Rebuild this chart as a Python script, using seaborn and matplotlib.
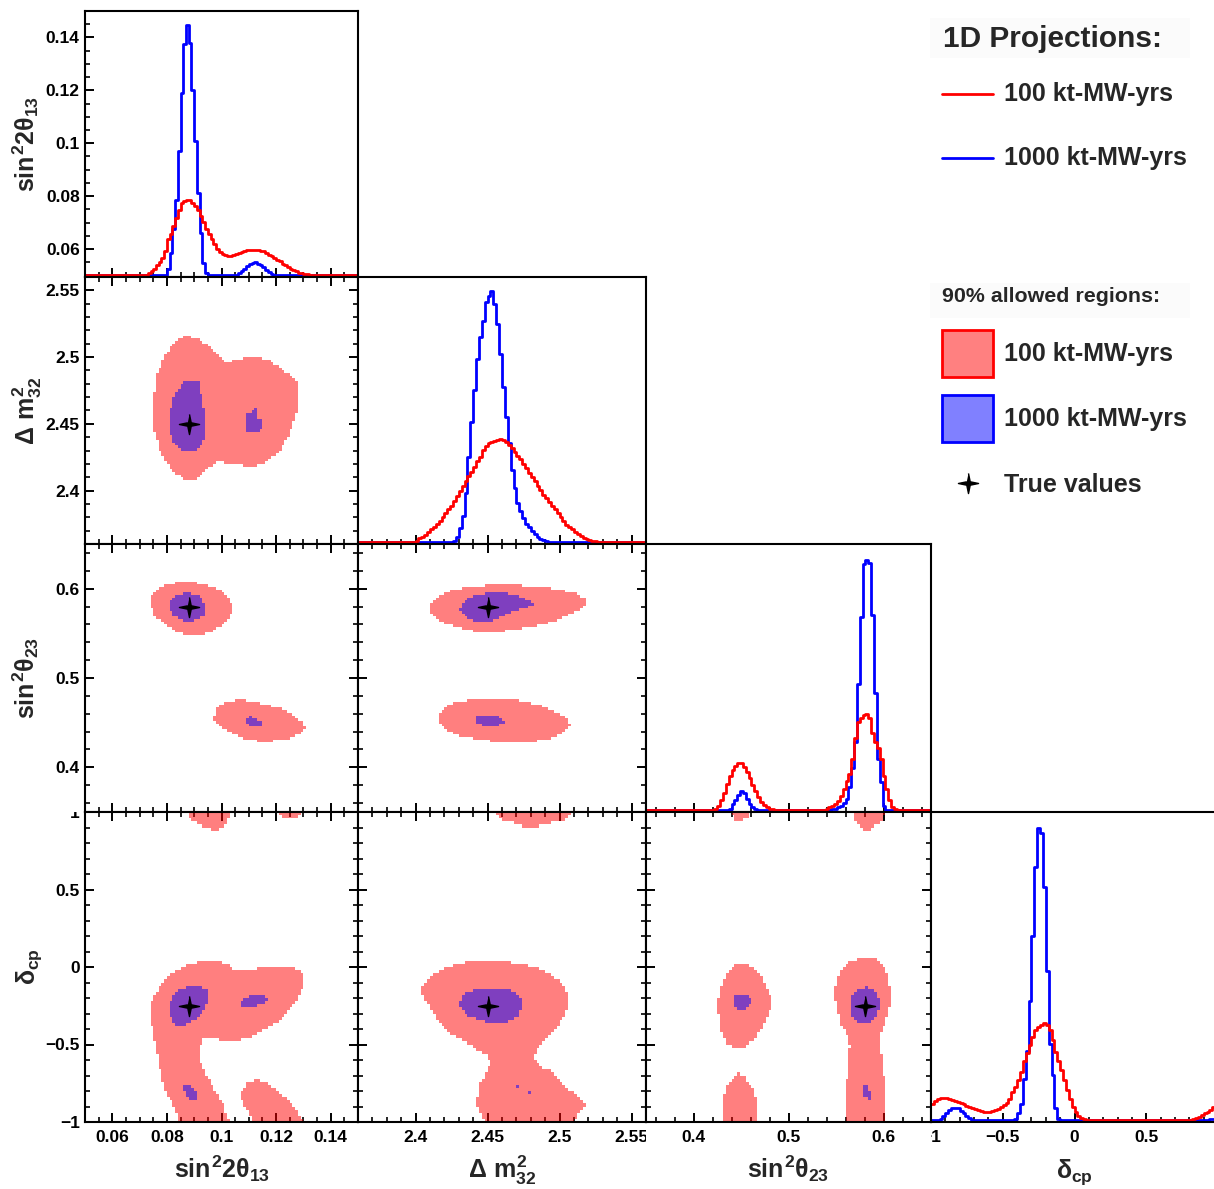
import numpy as np
import matplotlib
matplotlib.use("Agg")
import matplotlib.pyplot as plt
import seaborn as sns
from matplotlib.path import Path
from matplotlib.colors import ListedColormap
from matplotlib.patches import Rectangle
from matplotlib.ticker import MultipleLocator, FixedLocator, FuncFormatter, NullLocator
from matplotlib.transforms import Bbox, TransformedBbox

# ------------------------------------------------------------------ data
PARAM_LABELS = [r"$sin^{2}2\theta_{13}$", r"$\Delta\ m^{2}_{32}$",
                r"$sin^{2}\theta_{23}$", r"$\delta_{cp}$"]
PARAM_RANGES = [(0.05, 0.15), (2.36, 2.56), (0.35, 0.65), (-1.0, 1.0)]
MAJOR_TICKS = [[0.06, 0.08, 0.10, 0.12, 0.14], [2.40, 2.45, 2.50, 2.55],
               [0.4, 0.5, 0.6], [-1.0, -0.5, 0.0, 0.5, 1.0]]
MINOR_STEPS = [0.005, 0.01, 0.02, 0.1]
TRUE_VALUES = [0.088, 2.45, 0.58, -0.25]
DIAG00_YTICKS = [0.06, 0.08, 0.10, 0.12, 0.14]
EXPOSURES = ["100 kt-MW-yrs", "1000 kt-MW-yrs"]
LEGEND_TITLES = ["1D Projections:", "90% allowed regions:"]
TRUE_LABEL = "True values"
N_BINS = 100

# 1D projections: first filled bin and bin heights (% of panel height)
S13_100_START = 22
S13_100 = [0.3, 0.75, 1.6, 2.5, 3.8, 5.0, 6.7, 9.2, 13.6, 15.5, 18.6, 21.8, 24.9, 27.2,
           28.3, 28.7, 28.4, 27.4, 26.4, 24.9, 22.6, 20.1, 17.4, 15.5, 13.6, 11.7, 10.1,
           8.9, 8.2, 7.7, 7.5, 7.5, 7.8, 8.2, 8.6, 8.9, 9.3, 9.6, 9.8, 9.8, 9.8, 9.7, 9.4,
           9.1, 8.6, 7.9, 7.3, 6.7, 6.0, 5.3, 4.5, 3.8, 3.1, 2.5, 2.0, 1.5, 1.1, 0.9, 0.6,
           0.4, 0.25, 0.1]
S13_1000_START = 30
S13_1000 = ([2.3, 8.6, 17.4, 28.7, 46.9, 68.9, 87.5, 94.7, 88.0, 70.2, 50.7, 31.2, 16.1,
             4.8, 1.0] + [0.0] * 11 +
            [0.75, 1.6, 2.5, 3.5, 4.2, 4.8, 4.9, 4.5, 3.9, 3.0, 2.0, 1.3, 0.5])

DM_100_START = 19
DM_100 = [0.2, 0.7, 1.5, 2.1, 2.9, 3.9, 4.9, 5.9, 7.1, 8.2, 9.4, 10.9, 12.4, 13.9, 15.5,
          17.4, 19.2, 21.1, 23.0, 25.1, 26.7, 28.6, 30.5, 32.3, 34.8, 36.3, 37.3, 38.0,
          38.3, 38.7, 38.8, 38.6, 38.0, 36.7, 35.5, 34.2, 32.6, 31.3, 29.6, 28.0, 26.1,
          24.6, 23.0, 21.3, 19.9, 18.0, 16.7, 15.1, 13.6, 12.4, 10.9, 9.6, 8.0, 6.7, 5.9,
          4.9, 3.9, 3.0, 2.4, 1.7, 1.2, 0.9, 0.6, 0.4, 0.2, 0.1]
DM_1000_START = 32
DM_1000 = [0.2, 0.7, 2.1, 5.5, 9.9, 18.6, 32.3, 45.4, 57.3, 69.2, 77.3, 83.5, 90.4, 92.9,
           94.8, 89.8, 82.3, 71.0, 58.6, 47.3, 37.3, 27.3, 20.5, 14.9, 11.7, 9.2, 7.1, 5.9,
           4.2, 3.0, 2.1, 1.4, 0.9, 0.5, 0.2]

S23_100_START = 24
S23_100 = ([0.5, 1.7, 3.9, 6.7, 9.9, 13.0, 15.1, 16.7, 17.9, 17.7, 16.4, 14.6, 12.1, 9.6,
            7.1, 4.9, 3.2, 2.0, 1.1, 0.6, 0.4, 0.1] + [0.0] * 16 +
           [0.2, 0.6, 1.1, 1.6, 2.4, 3.6, 5.5, 8.0, 10.9, 13.6, 19.2, 27.3, 33.0, 34.8,
            35.8, 36.3, 34.8, 29.2, 25.8, 23.6, 19.2, 13.0, 8.0, 3.9, 1.1, 0.4])
S23_1000_START = 29
S23_1000 = ([0.7, 2.4, 4.0, 5.9, 7.1, 6.4, 4.2, 2.4, 1.1, 0.4] + [0.0] * 26 +
            [0.4, 0.6, 1.1, 1.7, 2.6, 4.2, 8.6, 16.1, 25.5, 47.3, 72.5, 92.5, 94.1, 92.9,
             73.5, 44.2, 19.2, 10.5, 1.7, 0.1])

DCP_100_START = 0
DCP_100 = ([5.1, 6.3, 6.8, 7.1, 7.2, 7.1, 6.9, 6.6, 6.3, 5.9, 5.6, 5.2, 4.7, 4.3, 3.9, 3.6,
            3.2, 2.9, 2.7, 2.6, 2.7, 2.9, 3.2, 3.7, 4.2, 4.9, 5.6, 6.8, 9.0, 10.8, 12.9,
            15.6, 19.1, 21.9, 24.5, 27.0, 29.1, 30.2, 31.0, 31.6, 31.0, 29.1, 25.9, 22.1,
            19.3, 16.2, 12.9, 9.7, 7.0, 4.3, 2.5, 1.4, 0.8, 0.3, 0.1] + [0.0] * 35 +
           [0.1, 0.3, 0.6, 1.1, 1.6, 2.2, 2.7, 3.3, 4.3, 5.0])
DCP_1000_START = 2
DCP_1000 = ([0.1, 0.5, 1.4, 2.4, 3.2, 3.8, 4.0, 3.8, 3.1, 2.3, 1.4, 0.6, 0.2] + [0.0] * 14 +
            [0.5, 2.2, 5.4, 13.5, 22.3, 38.8, 59.9, 82.0, 94.9, 93.3, 75.5, 48.5, 24.8,
             14.6, 3.8, 0.3] + [0.0] * 51 + [0.2, 0.3, 0.4, 0.5])

# 90% allowed regions, outlines (x param, y param)
REG_DM_S13_100 = [[(0.0873, 2.5164), (0.0922, 2.5126), (0.0959, 2.5076), (0.0989, 2.5013),
                   (0.1020, 2.4949), (0.1044, 2.4982), (0.1117, 2.5000), (0.1166, 2.4987),
                   (0.1215, 2.4924), (0.1251, 2.4861), (0.1276, 2.4811), (0.1285, 2.4710),
                   (0.1282, 2.4609), (0.1263, 2.4508), (0.1245, 2.4407), (0.1215, 2.4306),
                   (0.1166, 2.4217), (0.1117, 2.4179), (0.1068, 2.4192), (0.1032, 2.4205),
                   (0.0983, 2.4217), (0.0959, 2.4179), (0.0922, 2.4104), (0.0891, 2.4066),
                   (0.0861, 2.4091), (0.0824, 2.4141), (0.0794, 2.4230), (0.0770, 2.4331),
                   (0.0754, 2.4457), (0.0745, 2.4609), (0.0754, 2.4735), (0.0763, 2.4861),
                   (0.0788, 2.4987), (0.0818, 2.5088), (0.0843, 2.5139)]]
REG_DM_S13_1000 = [[(0.0867, 2.4816), (0.0916, 2.4816), (0.0922, 2.4747), (0.0934, 2.4634),
                    (0.0940, 2.4508), (0.0937, 2.4381), (0.0922, 2.4318), (0.0891, 2.4293),
                    (0.0855, 2.4301), (0.0830, 2.4343), (0.0812, 2.4432), (0.0810, 2.4558),
                    (0.0818, 2.4659), (0.0837, 2.4747), (0.0855, 2.4798)],
                   [(0.1090, 2.4583), (0.1118, 2.4595), (0.1120, 2.4625), (0.1130, 2.4625),
                    (0.1132, 2.4545), (0.1155, 2.4540), (0.1155, 2.4455), (0.1123, 2.4444),
                    (0.1090, 2.4432)]]

REG_S23_S13_100 = [[(0.0776, 0.6026), (0.0837, 0.6071), (0.0885, 0.6082), (0.0946, 0.6045),
                    (0.0995, 0.5989), (0.1026, 0.5895), (0.1040, 0.5802), (0.1032, 0.5690),
                    (0.1001, 0.5585), (0.0959, 0.5510), (0.0910, 0.5465), (0.0873, 0.5473),
                    (0.0824, 0.5540), (0.0788, 0.5615), (0.0757, 0.5690), (0.0741, 0.5802),
                    (0.0745, 0.5933)],
                   [(0.0977, 0.4662), (0.1020, 0.4729), (0.1068, 0.4755), (0.1141, 0.4718),
                    (0.1215, 0.4662), (0.1263, 0.4587), (0.1294, 0.4512), (0.1310, 0.4449),
                    (0.1294, 0.4389), (0.1251, 0.4325), (0.1190, 0.4295), (0.1141, 0.4288),
                    (0.1093, 0.4314), (0.1044, 0.4381), (0.0995, 0.4456), (0.0973, 0.4512)]]
REG_S23_S13_1000 = [[(0.0837, 0.5933), (0.0879, 0.5959), (0.0922, 0.5914), (0.0940, 0.5821),
                     (0.0937, 0.5708), (0.0916, 0.5660), (0.0885, 0.5634), (0.0849, 0.5652),
                     (0.0818, 0.5708), (0.0810, 0.5821), (0.0818, 0.5895)],
                    [(0.1093, 0.4550), (0.1111, 0.4576), (0.1123, 0.4538), (0.1154, 0.4512),
                     (0.1154, 0.4456), (0.1117, 0.4456), (0.1093, 0.4486)]]

REG_S23_DM_100 = [[(2.4099, 0.5839), (2.4157, 0.5914), (2.4227, 0.5970), (2.4320, 0.6007),
                   (2.4459, 0.6034), (2.4645, 0.6045), (2.4831, 0.6026), (2.4994, 0.5996),
                   (2.5110, 0.5951), (2.5180, 0.5884), (2.5184, 0.5832), (2.5133, 0.5764),
                   (2.5040, 0.5682), (2.4924, 0.5615), (2.4761, 0.5559), (2.4599, 0.5521),
                   (2.4483, 0.5510), (2.4367, 0.5533), (2.4250, 0.5585), (2.4157, 0.5652),
                   (2.4099, 0.5727)],
                  [(2.4157, 0.4606), (2.4227, 0.4699), (2.4343, 0.4744), (2.4529, 0.4763),
                   (2.4715, 0.4748), (2.4854, 0.4699), (2.4970, 0.4624), (2.5052, 0.4550),
                   (2.5082, 0.4475), (2.5040, 0.4400), (2.4947, 0.4325), (2.4808, 0.4288),
                   (2.4622, 0.4277), (2.4459, 0.4307), (2.4320, 0.4344), (2.4216, 0.4419),
                   (2.4157, 0.4493)]]
REG_S23_DM_1000 = [[(2.4343, 0.5877), (2.4413, 0.5921), (2.4494, 0.5951), (2.4599, 0.5959),
                    (2.4715, 0.5914), (2.4796, 0.5869), (2.4820, 0.5832), (2.4761, 0.5783),
                    (2.4669, 0.5746), (2.4599, 0.5682), (2.4529, 0.5634), (2.4425, 0.5622),
                    (2.4355, 0.5671), (2.4308, 0.5764)],
                   [(2.4425, 0.4576), (2.4552, 0.4587), (2.4599, 0.4550), (2.4622, 0.4501),
                    (2.4576, 0.4471), (2.4471, 0.4464), (2.4425, 0.4493)]]

REG_DCP_S13_100 = [[(0.0741, -0.3255), (0.0745, -0.2191), (0.0763, -0.1553), (0.0794, -0.0809),
                    (0.0837, -0.0170), (0.0879, 0.0191), (0.0922, 0.0362), (0.0977, 0.0404),
                    (0.1020, 0.0191), (0.1050, -0.0213), (0.1093, -0.0170), (0.1154, -0.0064),
                    (0.1215, -0.0021), (0.1276, -0.0106), (0.1300, -0.0596), (0.1300, -0.1234),
                    (0.1282, -0.1979), (0.1251, -0.2723), (0.1215, -0.3426), (0.1166, -0.4000),
                    (0.1117, -0.4426), (0.1068, -0.4745), (0.1020, -0.4787), (0.0971, -0.4638),
                    (0.0934, -0.4638), (0.0920, -0.5064), (0.0920, -0.5809), (0.0934, -0.6660),
                    (0.0959, -0.7404), (0.0983, -0.8149), (0.1007, -0.8894), (0.1029, -1.01),
                    (0.0849, -1.01), (0.0824, -0.8894), (0.0800, -0.8149), (0.0782, -0.7298),
                    (0.0773, -0.6447), (0.0763, -0.5383), (0.0751, -0.4532)],
                   [(0.1074, -0.7936), (0.1099, -0.7404), (0.1135, -0.7255), (0.1172, -0.7511),
                    (0.1215, -0.8149), (0.1263, -0.8894), (0.1306, -1.01), (0.1117, -1.01),
                    (0.1093, -0.9213), (0.1074, -0.8574)],
                   [(0.0873, 1.01), (0.1032, 1.01), (0.1020, 0.930), (0.0983, 0.877),
                    (0.0946, 0.898), (0.0904, 0.940), (0.0879, 0.962)],
                   [(0.1196, 1.01), (0.1294, 1.01), (0.1270, 0.955), (0.1233, 0.955)]]
REG_DCP_S13_1000 = [[(0.0837, -0.1553), (0.0873, -0.1298), (0.0916, -0.1170), (0.0946, -0.1447),
                     (0.0952, -0.1979), (0.0937, -0.2723), (0.0910, -0.3255), (0.0873, -0.3681),
                     (0.0849, -0.3894), (0.0818, -0.3574), (0.0810, -0.2830), (0.0812, -0.2191)],
                    [(0.1074, -0.2191), (0.1105, -0.1809), (0.1154, -0.1723), (0.1166, -0.2085),
                     (0.1154, -0.2404), (0.1105, -0.2574), (0.1074, -0.2660)],
                    [(0.0861, -0.7617), (0.0879, -0.7468), (0.0898, -0.7936), (0.0912, -0.8255),
                     (0.0910, -0.8574), (0.0885, -0.8532), (0.0867, -0.8149)]]

REG_DCP_DM_100 = [[(2.4099, -0.0596), (2.4204, -0.0064), (2.4343, 0.0319), (2.4529, 0.0404),
                   (2.4715, 0.0255), (2.4878, -0.0170), (2.4970, -0.0702), (2.5040, -0.1340),
                   (2.5068, -0.1979), (2.5052, -0.2830), (2.4994, -0.3681), (2.4924, -0.4532),
                   (2.4854, -0.5170), (2.4820, -0.5809), (2.4866, -0.6447), (2.4947, -0.6766),
                   (2.5040, -0.7723), (2.5133, -0.8362), (2.5180, -0.8894), (2.5133, -0.9426),
                   (2.5098, -1.01), (2.4483, -1.01), (2.4425, -0.8787), (2.4436, -0.7723),
                   (2.4483, -0.6872), (2.4529, -0.6234), (2.4483, -0.5596), (2.4367, -0.4957),
                   (2.4250, -0.4319), (2.4157, -0.3468), (2.4099, -0.2617), (2.4041, -0.1766),
                   (2.4041, -0.1340)],
                  [(2.4529, 1.01), (2.5098, 1.01), (2.5040, 0.951), (2.4901, 0.919),
                   (2.4796, 0.898), (2.4715, 0.919), (2.4599, 0.951)]]
REG_DCP_DM_1000 = [[(2.4343, -0.1660), (2.4459, -0.1340), (2.4599, -0.1298), (2.4680, -0.1553),
                    (2.4727, -0.1979), (2.4743, -0.2617), (2.4715, -0.3149), (2.4622, -0.3574),
                    (2.4518, -0.3681), (2.4436, -0.3362), (2.4355, -0.3043), (2.4302, -0.2404)],
                   [(2.4700, -0.760), (2.4720, -0.760), (2.4720, -0.780), (2.4700, -0.780)],
                   [(2.4780, -0.800), (2.4800, -0.800), (2.4800, -0.820), (2.4780, -0.820)]]

REG_DCP_S23_100 = [[(0.4430, 0.0149), (0.4553, 0.0191), (0.4675, -0.0277), (0.4763, -0.1128),
                    (0.4816, -0.2085), (0.4805, -0.2830), (0.4746, -0.3681), (0.4658, -0.4532),
                    (0.4553, -0.5128), (0.4430, -0.5277), (0.4342, -0.4851), (0.4289, -0.4106),
                    (0.4272, -0.3255), (0.4244, -0.2511), (0.4279, -0.1553), (0.4342, -0.0489)],
                   [(0.4465, -0.6766), (0.4535, -0.7085), (0.4623, -0.7723), (0.4658, -0.8362),
                    (0.4675, -0.9213), (0.4675, -1.01), (0.4325, -1.01), (0.4307, -0.8574),
                    (0.4342, -0.7723), (0.4412, -0.7191)],
                   [(0.5675, 0.0468), (0.5816, 0.0617), (0.5921, 0.0532), (0.6009, -0.0064),
                    (0.6061, -0.0915), (0.6079, -0.1979), (0.6061, -0.2830), (0.6009, -0.3681),
                    (0.5956, -0.4532), (0.5974, -0.5596), (0.5998, -0.6660), (0.6026, -0.7723),
                    (0.6026, -0.8787), (0.6009, -1.01), (0.5605, -1.01), (0.5598, -0.8787),
                    (0.5605, -0.7723), (0.5623, -0.6660), (0.5640, -0.5809), (0.5647, -0.4957),
                    (0.5605, -0.4319), (0.5553, -0.3681), (0.5518, -0.2830), (0.5482, -0.1979),
                    (0.5500, -0.0915), (0.5570, -0.0064)],
                   [(0.4395, 1.01), (0.4605, 1.01), (0.4553, 0.951), (0.4447, 0.947)],
                   [(0.5675, 1.01), (0.6026, 1.01), (0.5974, 0.940), (0.5886, 0.898),
                    (0.5816, 0.877), (0.5746, 0.919), (0.5693, 0.951)]]
REG_DCP_S23_1000 = [[(0.4430, -0.1872), (0.4588, -0.1723), (0.4612, -0.2362), (0.4570, -0.2660),
                     (0.4482, -0.2872), (0.4430, -0.2617)],
                    [(0.5711, -0.1447), (0.5833, -0.1234), (0.5921, -0.1553), (0.5963, -0.2191),
                     (0.5939, -0.2936), (0.5886, -0.3468), (0.5798, -0.3681), (0.5693, -0.3426),
                     (0.5647, -0.2830), (0.5658, -0.1979)],
                    [(0.5781, -0.7553), (0.5833, -0.7617), (0.5868, -0.8149), (0.5858, -0.8532),
                     (0.5798, -0.8468)]]

DIAG_DATA = [(S13_100_START, S13_100, S13_1000_START, S13_1000),
             (DM_100_START, DM_100, DM_1000_START, DM_1000),
             (S23_100_START, S23_100, S23_1000_START, S23_1000),
             (DCP_100_START, DCP_100, DCP_1000_START, DCP_1000)]
REGIONS = {(1, 0): (REG_DM_S13_100, REG_DM_S13_1000),
           (2, 0): (REG_S23_S13_100, REG_S23_S13_1000),
           (2, 1): (REG_S23_DM_100, REG_S23_DM_1000),
           (3, 0): (REG_DCP_S13_100, REG_DCP_S13_1000),
           (3, 1): (REG_DCP_DM_100, REG_DCP_DM_1000),
           (3, 2): (REG_DCP_S23_100, REG_DCP_S23_1000)}

# ------------------------------------------------------------------ style
sns.set_theme(style="ticks")
plt.rcParams.update({
    "font.weight": "bold",
    "axes.linewidth": 1.5, "axes.edgecolor": "black",
    "axes.facecolor": "white", "figure.facecolor": "white",
    "xtick.direction": "in", "ytick.direction": "in",
    "xtick.major.size": 6.5, "ytick.major.size": 6.5,
    "xtick.minor.size": 3.6, "ytick.minor.size": 3.6,
    "xtick.major.width": 1.4, "ytick.major.width": 1.4,
    "xtick.minor.width": 1.2, "ytick.minor.width": 1.2,
    "xtick.color": "black", "ytick.color": "black",
    "xtick.labelsize": 12.5, "ytick.labelsize": 12.5,
    "xtick.major.pad": 5.5, "ytick.major.pad": 3.8,
    "mathtext.fontset": "custom",
    "mathtext.rm": "Liberation Sans:bold",
    "mathtext.it": "Liberation Sans:bold",
    "mathtext.bf": "Liberation Sans:bold",
    "mathtext.sf": "Liberation Sans:bold",
})
plt.rcParams["font.family"] = ["Liberation Sans", "DejaVu Sans"]

W, H = 1214, 1189
COL_PX = [(85, 358), (358, 646), (646, 931), (931, 1218)]
ROW_PX = [(11, 277), (277, 544), (544, 812), (812, 1122)]

fig = plt.figure(figsize=(W / 100, H / 100), dpi=100)

STAR = [(0, 1), (0.17, 0.17), (1, 0), (0.17, -0.17), (0, -1), (-0.17, -0.17),
        (-1, 0), (-0.17, 0.17)]


def edges_of(i):
    lo, hi = PARAM_RANGES[i]
    return np.linspace(lo, hi, N_BINS + 1)


def full_hist(start, vals):
    h = np.zeros(N_BINS)
    h[start:start + len(vals)] = vals
    return h


def region_cells(polys, ix, iy):
    xe, ye = edges_of(ix), edges_of(iy)
    xc, yc = 0.5 * (xe[1:] + xe[:-1]), 0.5 * (ye[1:] + ye[:-1])
    X, Y = np.meshgrid(xc, yc)
    pts = np.column_stack([X.ravel(), Y.ravel()])
    inside = np.zeros(len(pts), dtype=bool)
    for p in polys:
        inside |= Path(p).contains_points(pts)
    return X.ravel(), Y.ravel(), inside.astype(float), xe, ye


def fmt_value(v):
    return ("%g" % round(v, 4)).replace("-", "\u2212")


fmt = FuncFormatter(lambda v, p: fmt_value(v))
# on the last column the label of the right-most tick lies outside the canvas
fmt_last = FuncFormatter(lambda v, p: "" if v > 0.99 else fmt_value(v))

# legend layer (drawn in figure pixel coordinates, underneath the panels)
lax = fig.add_axes([0, 0, 1, 1], zorder=-1)
lax.set_xlim(0, W)
lax.set_ylim(H, 0)
lax.axis("off")
for (bx0, by0, bx1, by1) in [(930, 18, 1190, 58), (930, 283, 1190, 318)]:
    lax.add_patch(Rectangle((bx0, by0), bx1 - bx0, by1 - by0, facecolor="#fbfbfb",
                            edgecolor="none"))
lax.text(943, 47, LEGEND_TITLES[0], fontsize=21.5, fontweight="bold", va="baseline")
for yy, col, lab in [(94, "red", EXPOSURES[0]), (158, "blue", EXPOSURES[1])]:
    lax.plot([942, 993], [yy, yy], color=col, lw=2)
    lax.text(1004, yy + 7.5, lab, fontsize=18, fontweight="bold", va="baseline")
lax.text(942, 301.5, LEGEND_TITLES[1], fontsize=15.4, fontweight="bold", va="baseline")
for (top, fc, ec, lab) in [(330, (1, 0.5, 0.5), "red", EXPOSURES[0]),
                           (395, (0.5, 0.5, 1), "blue", EXPOSURES[1])]:
    lax.add_patch(Rectangle((942, top), 51, 47, facecolor=fc, edgecolor=ec, lw=2))
    lax.text(1004, top + 31, lab, fontsize=18, fontweight="bold", va="baseline")
lax.plot([968], [483], marker=STAR, color="black", ms=14.5, ls="none")
lax.text(1004, 491.5, TRUE_LABEL, fontsize=18, fontweight="bold", va="baseline")

axes = {}
for r in range(4):
    for c in range(r + 1):
        x0, x1 = COL_PX[c]
        y0, y1 = ROW_PX[r]
        ax = fig.add_axes([x0 / W, 1 - y1 / H, (x1 - x0) / W, (y1 - y0) / H])
        axes[(r, c)] = ax
        for s in ax.spines.values():
            s.set_linewidth(1.5)
            s.set_color("black")

        if r == c:
            start_r, vals_r, start_b, vals_b = DIAG_DATA[r]
            e = edges_of(r)
            centers = 0.5 * (e[1:] + e[:-1])
            sns.histplot(x=centers, weights=full_hist(start_b, vals_b), bins=list(e),
                         element="step", fill=False, color="blue", linewidth=2, ax=ax)
            sns.histplot(x=centers, weights=full_hist(start_r, vals_r), bins=list(e),
                         element="step", fill=False, color="red", linewidth=2, ax=ax)
            ax.set_ylim(-0.6, 100)
            if r == 0:
                ax.yaxis.set_major_locator(FixedLocator([(v - 0.05) * 1000 for v in DIAG00_YTICKS]))
                ax.set_yticklabels(["%g" % v for v in DIAG00_YTICKS])
                ax.yaxis.set_minor_locator(MultipleLocator(5))
            else:
                ax.yaxis.set_major_locator(NullLocator())
                ax.yaxis.set_minor_locator(NullLocator())
            ax.tick_params(which="both", top=False, right=False, left=(r == 0), bottom=True,
                           labelleft=(r == 0), labelbottom=(r == 3))
        else:
            red_polys, blue_polys = REGIONS[(r, c)]
            for polys, col in [(red_polys, "#ff0000"), (blue_polys, "#0000ff")]:
                xs, ys, w, xe, ye = region_cells(polys, c, r)
                sns.histplot(x=xs, y=ys, weights=w, bins=[list(xe), list(ye)],
                             cmap=ListedColormap([col]), alpha=0.5, cbar=False, ax=ax)
            ax.plot([TRUE_VALUES[c]], [TRUE_VALUES[r]], marker=STAR, color="black",
                    ms=14.5, ls="none", zorder=6)
            ax.set_ylim(*PARAM_RANGES[r])
            ax.yaxis.set_major_locator(FixedLocator(MAJOR_TICKS[r]))
            ax.yaxis.set_minor_locator(MultipleLocator(MINOR_STEPS[r]))
            ax.yaxis.set_major_formatter(fmt)
            ax.tick_params(which="both", top=True, right=True, left=True, bottom=True,
                           labelleft=(c == 0), labelbottom=(r == 3))
        ax.set_xlim(*PARAM_RANGES[c])
        ax.xaxis.set_major_locator(FixedLocator(MAJOR_TICKS[c]))
        ax.xaxis.set_minor_locator(MultipleLocator(MINOR_STEPS[c]))
        ax.xaxis.set_major_formatter(fmt_last if c == 3 else fmt)
        ax.set_xlabel("")
        ax.set_ylabel("")
        ax.grid(False)


def clip_texts(texts, x0=0, x1=W, y0=0, y1=H):
    bb = TransformedBbox(Bbox.from_extents(x0 / W, 1 - y1 / H, x1 / W, 1 - y0 / H),
                         fig.transFigure)
    for t in texts:
        t.set_clip_box(bb)
        t.set_clip_on(True)


for c in range(4):
    clip_texts(axes[(3, c)].get_xticklabels(), x0=COL_PX[c][0], x1=min(COL_PX[c][1], W))
clip_texts(axes[(3, 0)].get_yticklabels(), y0=ROW_PX[3][0])

# axis titles
for i in range(4):
    cx = 0.5 * (COL_PX[i][0] + COL_PX[i][1])
    fig.text(cx / W, 1 - 1178 / H, PARAM_LABELS[i], ha="center", va="baseline",
             fontsize=18)
    cy = 0.5 * (ROW_PX[i][0] + ROW_PX[i][1])
    fig.text(35 / W, 1 - cy / H, PARAM_LABELS[i], rotation=90, rotation_mode="anchor",
             ha="center", va="baseline", fontsize=18)

fig.savefig("out.png", dpi=100)
